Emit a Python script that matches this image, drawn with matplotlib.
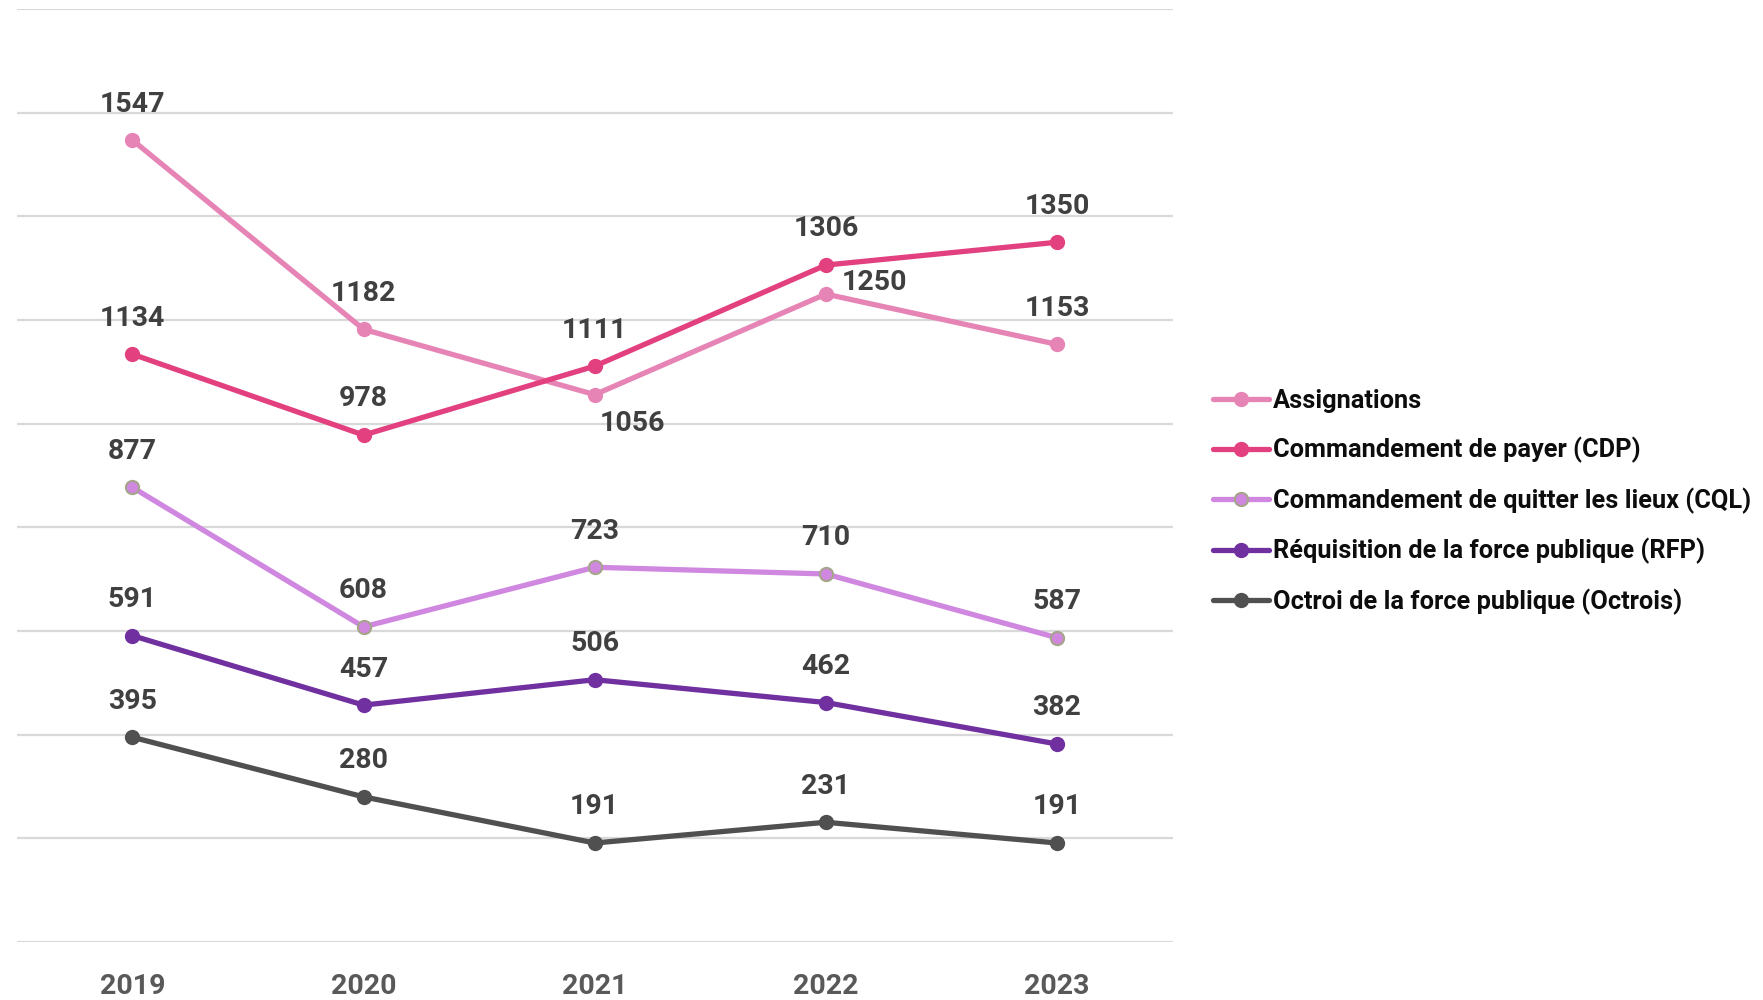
import matplotlib.pyplot as plt
import numpy as np

years = ['2019', '2020', '2021', '2022', '2023']
assignations = [1547, 1182, 1056, 1250, 1153]
cdp = [1134, 978, 1111, 1306, 1350]
cql = [877, 608, 723, 710, 587]
rfp = [591, 457, 506, 462, 382]
octrois = [395, 280, 191, 231, 191]

names = ['Assignations', 'Commandement de payer (CDP)',
         'Commandement de quitter les lieux (CQL)',
         'Réquisition de la force publique (RFP)',
         'Octroi de la force publique (Octrois)']
series = [assignations, cdp, cql, rfp, octrois]
colors = ['#E684B5', '#E2407F', '#CF87E0', '#7030A0', '#505050']
edge_colors = ['#E684B5', '#E2407F', '#A5A58A', '#7030A0', '#505050']

# label offsets in points (default: above the point)
special_offsets = {(0, 2): (27, -21), (0, 3): (35, 8)}

plt.rcParams['font.family'] = ['Roboto', 'DejaVu Sans']

fig = plt.figure(figsize=(17.63, 10), dpi=100)
ax = fig.add_axes([0.0096, 0.058, 0.6555, 0.933])

x = np.arange(len(years))
lines = []
for i, (vals, name) in enumerate(zip(series, names)):
    ln, = ax.plot(x, vals, color=colors[i], lw=3.8, marker='o', ms=9.5,
                  mfc=colors[i], mec=edge_colors[i], mew=1.5,
                  label=name, zorder=3, solid_capstyle='round')
    lines.append(ln)
    for j, v in enumerate(vals):
        dx, dy = special_offsets.get((i, j), (0, 26))
        ax.annotate(str(v), (x[j], v), xytext=(dx, dy), textcoords='offset points',
                    ha='center', va='center', fontsize=20.5, fontweight='bold',
                    color='#404040', zorder=4)

ax.set_xlim(-0.5, 4.5)
ax.set_ylim(0, 1800)
ax.set_yticks(np.arange(0, 1801, 200))
ax.yaxis.grid(True, color='#D9D9D9', lw=1.6)
ax.set_axisbelow(True)
ax.tick_params(axis='y', left=False, labelleft=False)
ax.set_xticks(x)
ax.set_xticklabels(years, fontsize=20.5, fontweight='bold', color='#595959')
ax.tick_params(axis='x', bottom=False, pad=19)
for s in ax.spines.values():
    s.set_visible(False)

fig.legend(handles=lines, loc='upper left', bbox_to_anchor=(0.675, 0.634),
           frameon=False, prop={'weight': 'bold', 'size': 18.3},
           handlelength=2.2, handletextpad=0.15, labelspacing=0.95,
           markerscale=1.0, labelcolor='#0D0D0D')

fig.savefig('out.png', dpi=100)
